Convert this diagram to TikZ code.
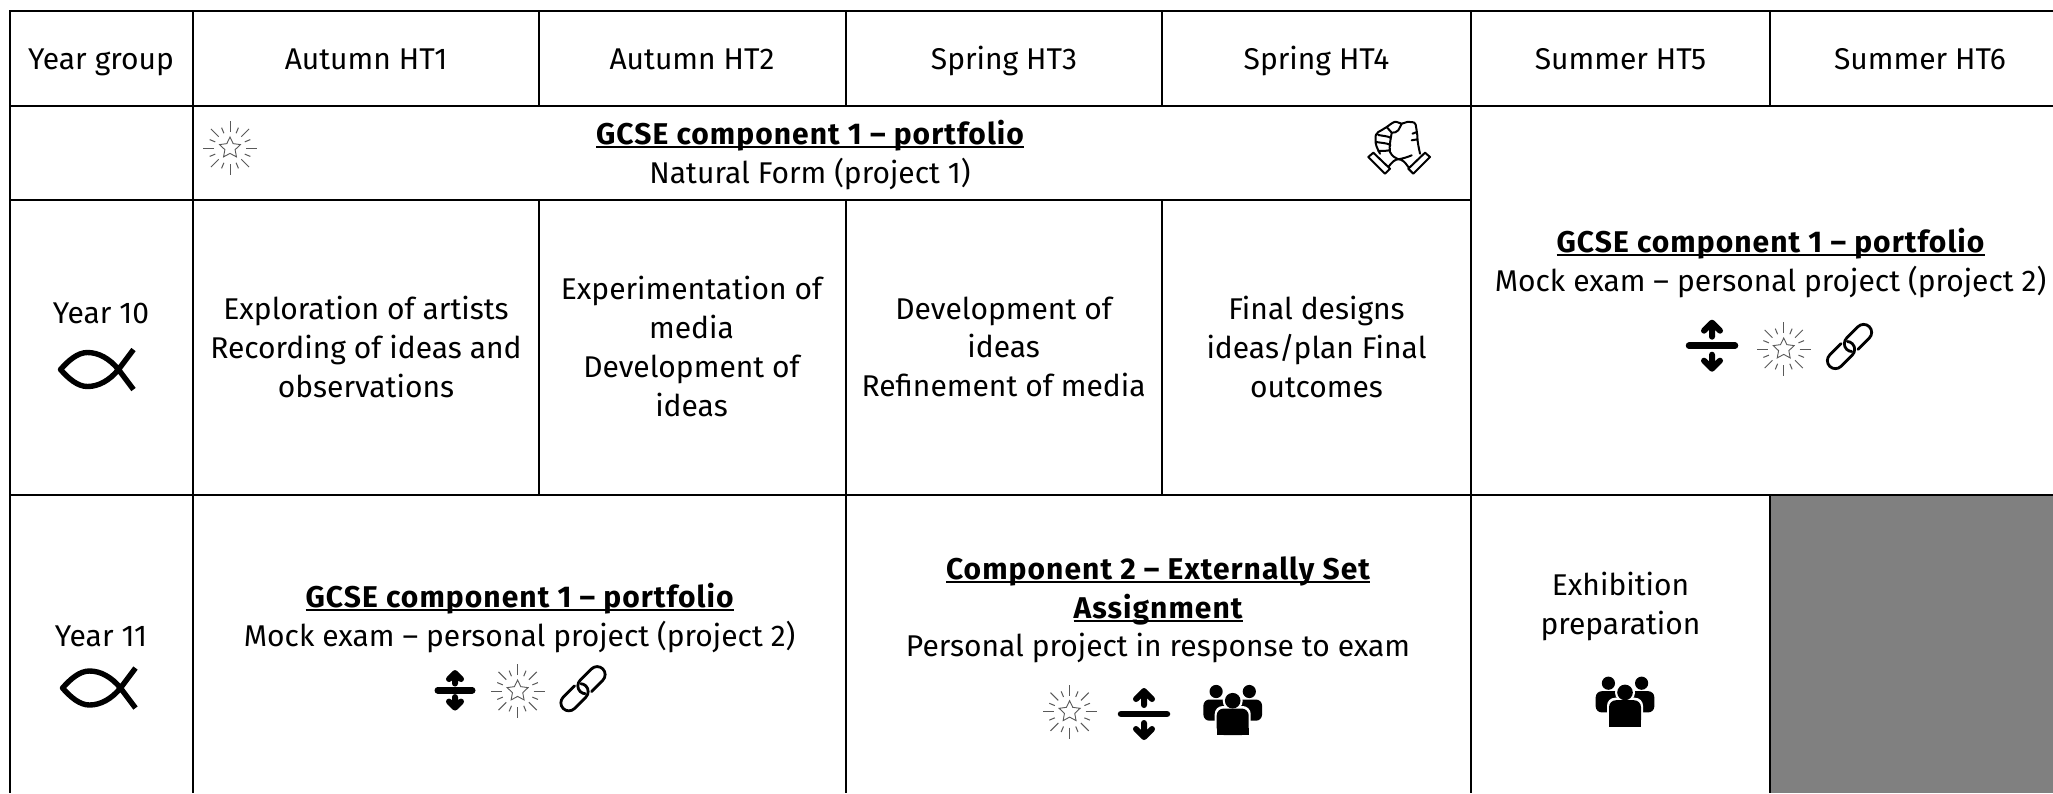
\documentclass[tikz,border=0pt]{standalone}
\usepackage{fontspec}
\setmainfont{Fira Sans}
\newfontfamily\headbold{Fira Sans}[LetterSpace=3.5]
\newcommand{\cellfont}{\fontsize{30}{38.8}\selectfont}
\newcommand{\ulb}[1]{\leavevmode\setbox0\hbox{\headbold\bfseries #1}\rlap{\vrule height -1.5pt depth 3.5pt width \wd0}\box0 }
\tikzset{
  gridline/.style={line width=2pt,black},
  celltext/.style={font=\cellfont,align=center,inner sep=0pt,text=black,yshift=-4.5pt,execute at begin node=\strut,execute at end node=\strut},
  pics/starburst/.style={code={
    \draw[line width=0.9pt,draw=black!65,line join=miter]
      (-90:11)--(-54:5.4)--(-18:11)--(18:5.4)--(54:11)--(90:5.4)--(126:11)--(162:5.4)--(198:11)--(234:5.4)--cycle;
    \foreach \a in {0,45,...,315}{\draw[line width=1pt,draw=black!65] (\a:16)--(\a:27);}
    \foreach \a in {22.5,67.5,...,337.5}{\draw[line width=1pt,draw=black!65] (\a:16)--(\a:22);}
  }},
  pics/splitarrows/.style={code={
    \draw[line width=6.5pt,line cap=round] (-23,0)--(23,0);
    \draw[line width=6pt,line cap=round,line join=round] (0,-9)--(0,-22) (-8,-15)--(0,-23)--(8,-15);
    \draw[line width=6pt,line cap=round,line join=round] (0,9)--(0,22) (-8,15)--(0,23)--(8,15);
  }},
  pics/chainlink/.style={code={
    \begin{scope}[rotate=45,line width=2.8pt,line cap=round]
      \draw (4,8) -- (20,8) .. controls (24.4,8) and (28,4.4) .. (28,0) .. controls (28,-4.4) and (24.4,-8) .. (20,-8) -- (4,-8) .. controls (-0.4,-8) and (-4,-4.4) .. (-4,0) .. controls (-4,2.2) and (-3,4) .. (-2,5);
      \draw (-4,-8) -- (-20,-8) .. controls (-24.4,-8) and (-28,-4.4) .. (-28,0) .. controls (-28,4.4) and (-24.4,8) .. (-20,8) -- (-4,8) .. controls (0.4,8) and (4,4.4) .. (4,0) .. controls (4,-2.2) and (3,-4) .. (2,-5);
    \end{scope}
  }},
  pics/fishmark/.style={code={
    \draw[line width=5.4pt,line join=round,line cap=butt]
      (36,20) -- (21,0) .. controls (12,-11) and (1,-17) .. (-10,-17)
      .. controls (-20,-17) and (-29,-9) .. (-37,0)
      .. controls (-29,9) and (-20,17) .. (-10,17)
      .. controls (1,17) and (12,11) .. (21,0) -- (36,-20);
  }},
  pics/people/.style={code={
    \foreach \s in {-1,1}{
      \fill (\s*16.6,-18.5) circle[radius=6.6];
      \fill[rounded corners=6pt] (\s*29.3,10.7) -- (\s*29.3,-10.5) -- (\s*4,-10.5) -- (\s*4,10.7) -- cycle;
    }
    \fill[white] (0,-9.3) circle[radius=10];
    \fill[white,rounded corners=8pt] (-18,27) -- (-18,-4) -- (18,-4) -- (18,27) -- cycle;
    \fill (0,-9.3) circle[radius=7.8];
    \fill[rounded corners=7pt] (-16,25) -- (-16,-1.5) -- (16,-1.5) -- (16,25) -- cycle;
    \fill (-16,18) rectangle (16,25);
  }},
  pics/clasp/.style={code={
    \draw[line width=2pt,line join=round,line cap=round]
      (-30.7,9) -- (-25.7,4.7) -- (-9,20.7) -- (-14,25.7) -- cycle
      (31,9) -- (26,4.7) -- (9.3,20.7) -- (14.3,25.7) -- cycle
      (-19,5.7) .. controls (-22,0) and (-24,-4) .. (-23.3,-8) .. controls (-24,-12) and (-23,-15) .. (-20.7,-16)
      .. controls (-17,-18) and (-14,-20) .. (-12.3,-21) .. controls (-8,-24) and (-5,-27) .. (-2.3,-26)
      .. controls (0,-26) and (1,-25) .. (2.7,-24.3) .. controls (6,-25) and (9,-27) .. (11,-26)
      .. controls (15,-26) and (16.5,-25) .. (16.7,-23.3) .. controls (17.5,-18) and (18,-16) .. (18.3,-12.7)
      .. controls (18.5,-9) and (18.5,-6) .. (19.3,-2.7) -- (21,5.7)
      (-10.7,19) .. controls (-7,14) and (-4,11.3) .. (-0.7,11.3) .. controls (3,11.3) and (6,14) .. (9.3,19)
      (-12.3,-21) -- (-7.3,-15.3) .. controls (-5,-15) and (-2,-16) .. (-0.7,-17.7) -- (2.7,-24.3)
      (-7.3,-15.3) .. controls (-8.5,-8) and (-10,-2) .. (-9,4) .. controls (-7,8) and (-4,10) .. (-0.7,11.3)
      (-0.7,11.3) .. controls (4,10.5) and (9,9) .. (12.7,7.3)
      (-20.7,-13) .. controls (-16,-12) and (-11,-12) .. (-8,-10)
      (-23,-6) .. controls (-17,-5) and (-12,-5) .. (-8.5,-3)
      (-21,3) .. controls (-16,3) and (-12,3) .. (-9,2)
      (13.5,-14.3) -- (18,-16)
      (12.7,-7.7) -- (18.5,-8.7);
  }}
}
\begin{document}
\begin{tikzpicture}[x=1pt,y=-1pt]
\useasboundingbox (0,0) rectangle (2053,793);
\fill[white] (0,0) rectangle (2053,793);
\fill[black!50] (1770,495) rectangle (2053,793);
% grid
\draw[gridline] (2053,11) -- (10,11) -- (10,793);
\draw[gridline] (10,106) -- (2053,106);
\draw[gridline] (10,200) -- (1471,200);
\draw[gridline] (10,495) -- (2053,495);
\draw[gridline] (192.5,11) -- (192.5,793);
\draw[gridline] (539,11) -- (539,106) (539,200) -- (539,495);
\draw[gridline] (846,11) -- (846,106) (846,200) -- (846,793);
\draw[gridline] (1162,11) -- (1162,106) (1162,200) -- (1162,495);
\draw[gridline] (1471,11) -- (1471,793);
\draw[gridline] (1770,11) -- (1770,106) (1770,495) -- (1770,793);
% header
\node[celltext] (hYear) at (101,57) {Year group};
\node[celltext] (hA1) at (366,57) {Autumn HT1};
\node[celltext] (hA2) at (692,57) {Autumn HT2};
\node[celltext] (hS3) at (1004,57) {Spring HT3};
\node[celltext] (hS4) at (1316.5,57) {Spring HT4};
\node[celltext] (hS5) at (1620.5,57) {Summer HT5};
\node[celltext] (hS6) at (1920,57) {Summer HT6};
% year 10
\node[celltext] (natural) at (810,153) {\ulb{GCSE component 1 – portfolio}\\Natural Form (project 1)};
\node[celltext] (y10) at (101,311.5) {Year 10};
\node[celltext] (c1) at (366,348) {Exploration of artists\\Recording of ideas and\\observations};
\node[celltext] (c2) at (691.5,347.6) {Experimentation of\\media\\Development of\\ideas};
\node[celltext] (c3) at (1003.6,348) {Development of\\ideas\\Refinement of media};
\node[celltext] (c4) at (1316.5,348) {Final designs\\ideas/plan Final\\outcomes};
\node[celltext] (mockA) at (1770.5,261) {\ulb{GCSE component 1 – portfolio}\\Mock exam – personal project (project 2)};
% year 11
\node[celltext] (y11) at (101,634.5) {Year 11};
\node[celltext] (mockB) at (519.6,616.5) {\ulb{GCSE component 1 – portfolio}\\Mock exam – personal project (project 2)};
\node[celltext] (comp2) at (1158,608) {\ulb{Component 2 – Externally Set}\\\ulb{Assignment}\\Personal project in response to exam};
\node[celltext] (exhib) at (1620.5,604.5) {Exhibition\\preparation};
% icons
\pic at (230,148) {starburst};
\pic at (1399,148) {clasp};
\pic at (97.5,369.5) {fishmark};
\pic at (99.5,688) {fishmark};
\pic at (1712,345.7) {splitarrows};
\pic at (1783.7,349) {starburst};
\pic at (1849.5,346.5) {chainlink};
\pic[scale=0.75] at (455,690.3) {splitarrows};
\pic at (517.6,691) {starburst};
\pic at (583,688.7) {chainlink};
\pic at (1069.6,711.7) {starburst};
\pic at (1144,714) {splitarrows};
\pic at (1232.7,710) {people};
\pic at (1625,701.7) {people};
\end{tikzpicture}
\end{document}
